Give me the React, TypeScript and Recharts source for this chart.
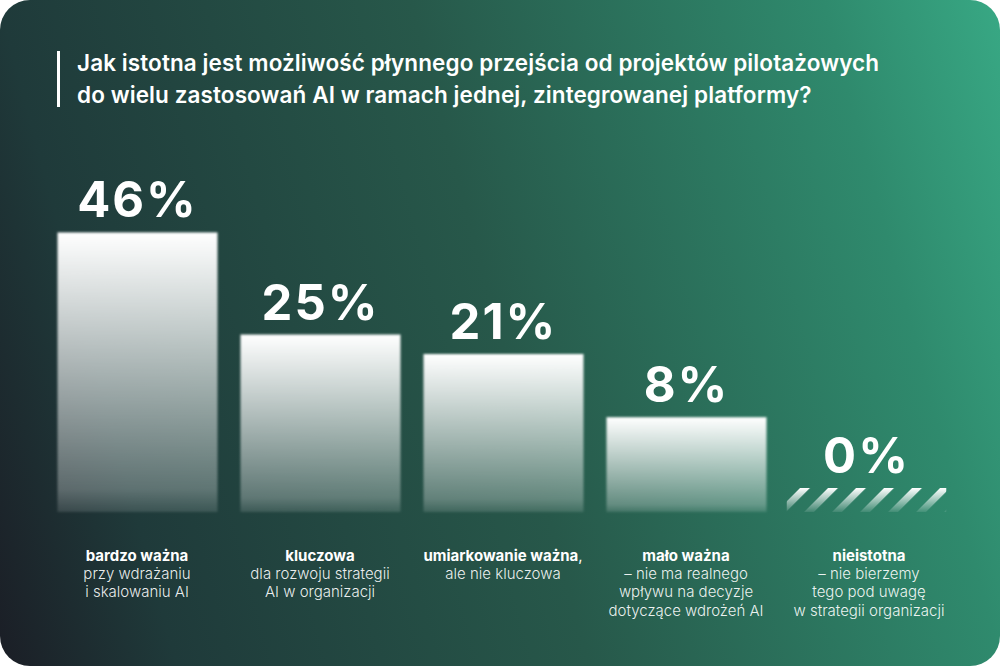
import { BarChart, Bar, XAxis, YAxis, LabelList } from 'recharts'

const categories = ['bardzo ważna', 'kluczowa', 'umiarkowanie ważna', 'mało ważna', 'nieistotna']
const categorySuffix = ['', '', ',', '', '']
const descriptions = [
  ['przy wdrażaniu', 'i skalowaniu AI'],
  ['dla rozwoju strategii', 'AI w organizacji'],
  ['ale nie kluczowa'],
  ['– nie ma realnego', 'wpływu na decyzje', 'dotyczące wdrożeń AI'],
  ['– nie bierzemy', 'tego pod uwagę', 'w strategii organizacji'],
]
const shares = [46, 25, 21, 8, 0]

const W = 1000
const H = 666
const PLOT_BOTTOM = 512
const FONT = 'Inter, "Noto Sans", sans-serif'

const data = categories.map((name, i) => ({ name, share: shares[i] }))

// bars run down to the plot bottom; the 0% bar is a short hatched strip
function BarShape(props: any) {
  const { x, y, width, background, value } = props
  const bottom = background ? background.y + background.height : PLOT_BOTTOM
  if (!value) {
    return (
      <rect x={x - 3} y={bottom - 24} width={width} height={24} fill="url(#hatch)" mask="url(#hatchFade)" />
    )
  }
  return (
    <rect x={x} y={y} width={width} height={bottom - y} fill="url(#barFill)" filter="url(#soft)" />
  )
}

function ValueLabel(props: any) {
  const { x, y, width, value } = props
  const top = value ? y : PLOT_BOTTOM - 24
  return (
    <text
      x={x + width / 2 - (value ? 0 : 3)}
      y={top - 15}
      textAnchor="middle"
      fill="#fff"
      fontFamily={FONT}
      fontWeight={700}
      fontSize={49}
      letterSpacing={2}
    >
      {value}%
    </text>
  )
}

function CategoryTick(props: any) {
  const { x, payload } = props
  const i = categories.indexOf(payload.value)
  return (
    <g>
      <text x={x} y={561} textAnchor="middle" fill="#fff" fontFamily={FONT} fontSize={15}>
        <tspan fontWeight={700}>{payload.value}</tspan>
        <tspan fontWeight={400}>{categorySuffix[i]}</tspan>
      </text>
      {descriptions[i].map((line, k) => (
        <text
          key={k}
          x={x}
          y={579 + k * 18.3}
          textAnchor="middle"
          fill="#fff"
          fillOpacity={0.92}
          fontFamily={FONT}
          fontWeight={300}
          fontSize={15}
        >
          {line}
        </text>
      ))}
    </g>
  )
}

export default function App() {
  return (
    <div style={{ width: W, height: H, background: '#fff', position: 'relative' }}>
      <style>{'body{margin:0}'}</style>
      <div
        style={{
          position: 'absolute',
          inset: 0,
          borderRadius: 30,
          background:
            'linear-gradient(75deg, #1b1e26 0%, #1f3a3a 15%, #27584a 50%, #2f8a6d 85%, #38a884 100%)',
        }}
      />
      <div style={{ position: 'absolute', left: 57, top: 51, width: 3, height: 56, background: '#fff' }} />
      <div
        style={{
          position: 'absolute',
          left: 77,
          top: 47,
          color: '#fff',
          fontFamily: FONT,
          fontWeight: 600,
          fontSize: 22.5,
          lineHeight: '32px',
          letterSpacing: 0.1,
          whiteSpace: 'nowrap',
        }}
      >
        Jak istotna jest możliwość płynnego przejścia od projektów pilotażowych
        <br />
        do wielu zastosowań AI w ramach jednej, zintegrowanej platformy?
      </div>
      <div style={{ position: 'absolute', left: 0, top: 0 }}>
        <BarChart
          width={W}
          height={H}
          data={data}
          margin={{ top: 213, right: 39.5, bottom: 94, left: 45.5 }}
        >
          <defs>
            <linearGradient id="barFill" x1="0" y1="0" x2="0" y2="1">
              <stop offset="0%" stopColor="#fff" stopOpacity={1} />
              <stop offset="92%" stopColor="#fff" stopOpacity={0.28} />
              <stop offset="100%" stopColor="#fff" stopOpacity={0.12} />
            </linearGradient>
            <filter id="soft" x="-5%" y="-5%" width="110%" height="110%">
              <feGaussianBlur stdDeviation="1" />
            </filter>
            <pattern id="hatch" width="19.8" height="19.8" patternUnits="userSpaceOnUse" patternTransform="rotate(45)">
              <rect x="0" y="0" width="7" height="19.8" fill="#fff" />
            </pattern>
            <linearGradient id="hatchGrad" x1="0" y1="0" x2="0" y2="1">
              <stop offset="0%" stopColor="#fff" stopOpacity={1} />
              <stop offset="100%" stopColor="#fff" stopOpacity={0.1} />
            </linearGradient>
            <mask id="hatchFade" maskContentUnits="objectBoundingBox">
              <rect x="0" y="0" width="1" height="1" fill="url(#hatchGrad)" />
            </mask>
          </defs>
          <XAxis
            dataKey="name"
            axisLine={false}
            tickLine={false}
            height={60}
            interval={0}
            tick={<CategoryTick />}
          />
          <YAxis hide domain={[-11.5, 50]} />
          <Bar dataKey="share" barSize={160} shape={<BarShape />} isAnimationActive={false}>
            <LabelList dataKey="share" content={<ValueLabel />} />
          </Bar>
        </BarChart>
      </div>
    </div>
  )
}
